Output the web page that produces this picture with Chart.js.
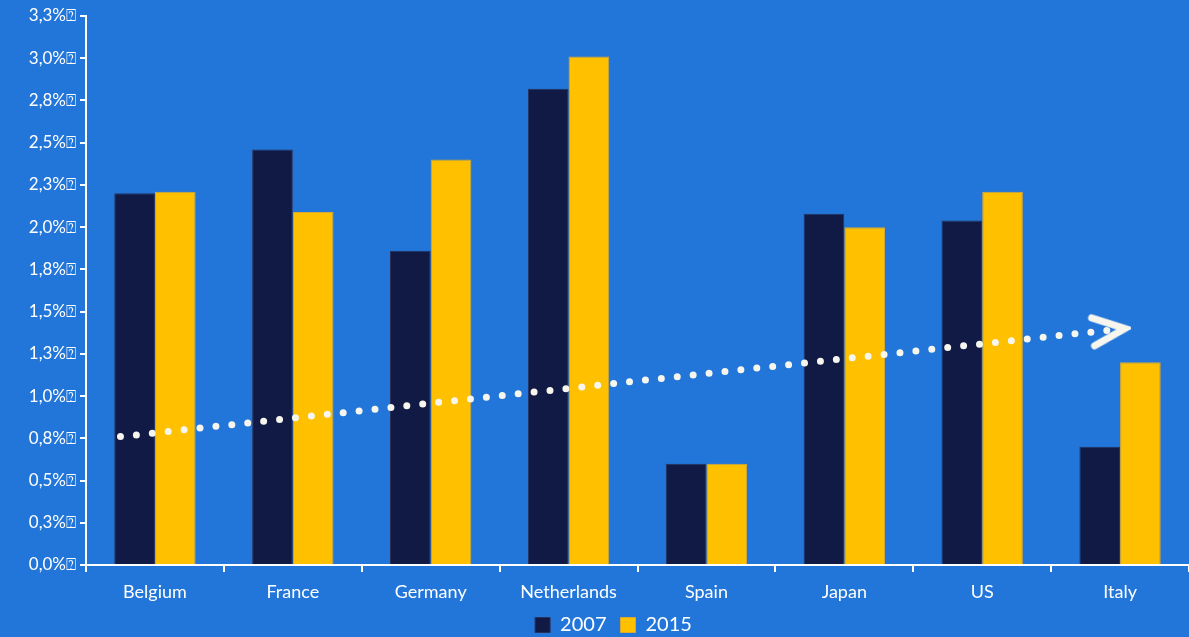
<!DOCTYPE html>
<html>
<head>
<meta charset="utf-8">
<script src="https://cdn.jsdelivr.net/npm/chart.js@4.4.1/dist/chart.umd.min.js"></script>
<style>
  html, body { margin: 0; padding: 0; background: #2276da; overflow: hidden; }
  #wrap { width: 1189px; height: 637px; }
  canvas { display: block; }
</style>
</head>
<body>
<div id="wrap"><canvas id="chart"></canvas></div>
<script>
// data
const countries = ['Belgium', 'France', 'Germany', 'Netherlands', 'Spain', 'Japan', 'US', 'Italy'];
const values2007 = [2.20, 2.46, 1.86, 2.82, 0.60, 2.08, 2.04, 0.70];
const values2015 = [2.21, 2.09, 2.40, 3.01, 0.60, 2.00, 2.21, 1.20];
// trend arrow: start and end as (category index, value)
const trendX = [-0.25, 6.92];
const trendY = [0.76, 1.39];

// arrow head image for the last point of the trend line
function makeChevron() {
    const c = document.createElement('canvas');
    c.width = 44;
    c.height = 38;
    const ctx = c.getContext('2d');
    ctx.strokeStyle = '#f6f5ee';
    ctx.lineWidth = 7;
    ctx.lineCap = 'round';
    ctx.lineJoin = 'miter';
    ctx.beginPath();
    ctx.moveTo(6, 5);
    ctx.lineTo(38, 19);
    ctx.lineTo(6, 33);
    ctx.stroke();
    return c;
}
const chevron = makeChevron();

const bgPlugin = {
    id: 'bg',
    beforeDraw(chart) {
        const ctx = chart.ctx;
        ctx.save();
        ctx.fillStyle = '#2276da';
        ctx.fillRect(0, 0, chart.width, chart.height);
        ctx.restore();
    }
};

// keep the legend block a fixed height so the plot keeps its size,
// and nudge it right like in the original
const legendHeight = {
    id: 'legendHeight',
    beforeInit(chart) {
        const legend = chart.legend;
        const fit = legend.fit;
        legend.fit = function() {
            fit.call(legend);
            this.height = 36;
        };
    },
    afterLayout(chart) {
        chart.legend.left += 18;
        chart.legend.right += 18;
    }
};

const fontFamily = 'Lato, "Open Sans", sans-serif';

new Chart(document.getElementById('chart'), {
    type: 'bar',
    data: {
        labels: countries,
        datasets: [{
            label: '2007',
            data: values2007,
            backgroundColor: '#111a45',
            borderColor: '#2a3158',
            borderWidth: 1,
            categoryPercentage: 0.59,
            barPercentage: 1.0,
            order: 1
        }, {
            label: '2015',
            data: values2015,
            backgroundColor: '#ffc000',
            borderColor: '#d9a830',
            borderWidth: 1,
            categoryPercentage: 0.59,
            barPercentage: 1.0,
            order: 1
        }, {
            type: 'line',
            label: 'trend',
            parsing: false,
            data: trendX.map((x, i) => ({ x: x, y: trendY[i] })),
            borderColor: '#f6f5ee',
            borderWidth: 7,
            borderDash: [0, 16],
            borderCapStyle: 'round',
            pointStyle: [false, chevron],
            pointRadius: [0, 5],
            pointRotation: -6,
            fill: false,
            clip: false,
            order: 0
        }]
    },
    options: {
        responsive: true,
        maintainAspectRatio: false,
        animation: false,
        layout: {
            autoPadding: false,
            padding: { top: 16, left: 0, right: -2, bottom: 0 }
        },
        plugins: {
            legend: {
                display: true,
                position: 'bottom',
                labels: {
                    color: '#ffffff',
                    boxWidth: 15,
                    boxHeight: 15,
                    padding: 14,
                    font: { family: fontFamily, size: 20 },
                    filter: item => item.text !== 'trend'
                }
            },
            tooltip: { enabled: false }
        },
        scales: {
            x: {
                offset: true,
                afterFit: function(scale) {
                    scale.height = 36;
                },
                grid: {
                    display: true,
                    drawOnChartArea: false,
                    drawTicks: true,
                    tickLength: 7,
                    color: '#ffffff',
                    lineWidth: 2
                },
                border: { color: '#ffffff', width: 2 },
                ticks: {
                    color: '#ffffff',
                    padding: 9,
                    font: { family: fontFamily, size: 18 }
                }
            },
            y: {
                min: 0,
                max: 3.25,
                afterFit: function(scale) {
                    scale.width = 86;
                },
                grid: {
                    display: true,
                    drawOnChartArea: false,
                    drawTicks: true,
                    tickLength: 6,
                    color: '#ffffff',
                    lineWidth: 2
                },
                border: { color: '#ffffff', width: 2 },
                ticks: {
                    stepSize: 0.25,
                    color: '#ffffff',
                    padding: 4,
                    font: { family: fontFamily, size: 17 },
                    callback: function(value) {
                        return value.toFixed(1).replace('.', ',') + '%\u2370';
                    }
                }
            }
        }
    },
    plugins: [bgPlugin, legendHeight]
});
</script>
</body>
</html>
